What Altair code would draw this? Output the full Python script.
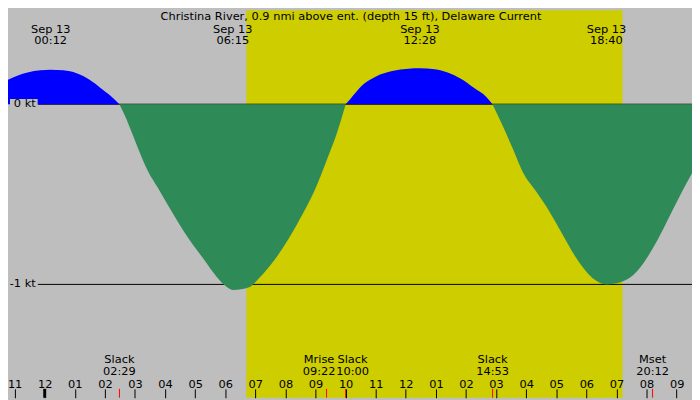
import pandas as pd
import altair as alt

W, H = 692, 392
FONT = "DejaVu Sans"
FS = 11.5

title_text = "Christina River, 0.9 nmi above ent. (depth 15 ft), Delaware Current"

flood1_h = [-1.22, -0.89, -0.57, -0.14, 0.19, 0.62, 1.06, 1.49, 1.92, 2.25, 2.48]
flood1_kt = [0.136, 0.160, 0.176, 0.188, 0.192, 0.188, 0.172, 0.136, 0.082, 0.038, 0.0]

ebb1_h = [2.48, 2.68, 2.90, 3.11, 3.44, 3.76, 4.20, 4.73, 5.28, 5.71, 6.03, 6.27,
          6.79, 7.12, 7.66, 8.09, 8.52, 8.96, 9.39, 9.71, 10.0]
ebb1_kt = [0.0, -0.070, -0.160, -0.249, -0.375, -0.464, -0.590, -0.733, -0.859, -0.957,
           -1.011, -1.031, -1.016, -0.966, -0.859, -0.751, -0.625, -0.482, -0.303, -0.160, 0.0]

flood2_h = [10.0, 10.15, 10.58, 11.01, 11.55, 12.09, 12.47, 12.96, 13.39, 13.83, 14.26, 14.69, 14.88]
flood2_kt = [0.0, 0.028, 0.109, 0.154, 0.184, 0.197, 0.199, 0.194, 0.176, 0.141, 0.091, 0.038, 0.0]

ebb2_h = [14.88, 15.23, 15.56, 15.88, 16.32, 16.75, 17.18, 17.61, 18.05, 18.37, 18.67,
          19.13, 19.56, 19.99, 20.43, 20.86, 21.19, 21.51]
ebb2_kt = [0.0, -0.124, -0.249, -0.375, -0.482, -0.590, -0.715, -0.840, -0.939, -0.984, -1.0,
           -0.988, -0.948, -0.859, -0.733, -0.590, -0.482, -0.383]

# max flood / max ebb labels along the top
extreme_date = "Sep 13"
extreme_times = ["00:12", "06:15", "12:28", "18:40"]

# events along the bottom
event_names = ["Slack", "Mrise", "Slack", "Slack", "Mset"]
event_times = ["02:29", "09:22", "10:00", "14:53", "20:12"]

sunrise, sunset = "06:42", "19:12"
hour_ticks = list(range(-1, 22))
kt_lines = [0, -1]
kt_labels = ["0 kt", "-1 kt"]


def to_hours(t):
    hh, mm = t.split(":")
    return int(hh) + int(mm) / 60


# label nudges (hours) so crowded event labels don't collide
label_nudge = {1: -0.25, 2: 0.23}

segments = [("flood", flood1_h, flood1_kt), ("ebb", ebb1_h, ebb1_kt),
            ("flood", flood2_h, flood2_kt), ("ebb", ebb2_h, ebb2_kt)]
rows = []
for i, (kind, hs, kts) in enumerate(segments):
    for h, k in zip(hs, kts):
        rows.append({"h": h, "kt": k, "seg": i, "kind": kind})
curve = pd.DataFrame(rows)

extremes = pd.DataFrame({"time": extreme_times, "date": extreme_date})
extremes["h"] = extremes["time"].map(to_hours)

events = pd.DataFrame({"name": event_names, "time": event_times})
events["h"] = events["time"].map(to_hours)
events["lh"] = [h + label_nudge.get(i, 0) for i, h in enumerate(events["h"])]

sun = pd.DataFrame({"rise": [to_hours(sunrise)], "set": [to_hours(sunset)]})
levels = pd.DataFrame({"kt": kt_lines, "label": kt_labels})
midnight = pd.DataFrame({"h": [0]})

xscale = alt.Scale(domain=[-1.22, 21.51], nice=False, zero=False)
yscale = alt.Scale(domain=[-1.629, 0.5215], nice=False, zero=False)
xaxis = alt.Axis(
    orient="top", offset=-H, values=hour_ticks, title=None,
    labelExpr="pad(toString(((datum.value + 11) % 12) + 1), 2, '0', 'left')",
    domain=False, grid=False, tickSize=9, tickColor="black", tickWidth=1,
    labelFont=FONT, labelFontSize=FS, labelColor="black", labelPadding=1,
    labelBaseline="alphabetic", labelFlush=False, labelOverlap=False, zindex=1,
)


def xenc(field):
    return alt.X(f"{field}:Q", scale=xscale, axis=xaxis)


def yenc(field):
    return alt.Y(f"{field}:Q", scale=yscale, axis=None)


def text_mark(align="center"):
    return dict(align=align, baseline="middle", font=FONT, fontSize=FS, color="black")


band = alt.Chart(sun).mark_rect(color="#cdcd00").encode(
    x=xenc("rise"), x2="set"
)

rules = alt.Chart(levels).mark_rule(color="black", strokeWidth=1).encode(
    x=alt.value(30), x2=alt.value(W), y=yenc("kt")
)

areas = alt.Chart(curve).mark_area(interpolate="monotone").encode(
    x=xenc("h"),
    y=yenc("kt"),
    y2=alt.datum(0),
    color=alt.Color("kind:N", scale=alt.Scale(domain=["flood", "ebb"], range=["#0000ff", "#2e8b57"]), legend=None),
    detail="seg:N",
)

label_box = alt.Chart(levels).transform_calculate(
    top="datum.kt + 0.029", bot="datum.kt - 0.025"
).mark_rect(color="#bebebe").encode(
    x=alt.value(2), x2=alt.value(30), y=yenc("top"), y2="bot"
)

level_text = alt.Chart(levels).mark_text(**text_mark("right")).encode(
    x=alt.value(28), y=yenc("kt"), text="label:N"
)

top_date = alt.Chart(extremes).mark_text(**text_mark()).encode(
    x=xenc("h"), y=alt.value(19.6), text="date:N"
)

top_time = alt.Chart(extremes).mark_text(**text_mark()).encode(
    x=xenc("h"), y=alt.value(31.6), text="time:N"
)

ev_name = alt.Chart(events).mark_text(**text_mark()).encode(
    x=xenc("lh"), y=alt.value(353.6), text="name:N"
)

ev_time = alt.Chart(events).mark_text(**text_mark()).encode(
    x=xenc("lh"), y=alt.value(365.6), text="time:N"
)

ev_ticks = alt.Chart(events).mark_rule(color="red", strokeWidth=1).encode(
    x=xenc("h"), y=alt.value(383), y2=alt.value(H)
)

day_tick = alt.Chart(midnight).mark_rule(color="black", strokeWidth=3).encode(
    x=xenc("h"), y=alt.value(383), y2=alt.value(H)
)

title = alt.Chart(pd.DataFrame({"t": [title_text]})).mark_text(**text_mark()).encode(
    x=alt.value(W / 2 + 1), y=alt.value(7), text="t:N"
)

chart = alt.layer(
    band, rules, areas, label_box, level_text, top_date, top_time,
    ev_name, ev_time, ev_ticks, day_tick, title
).properties(
    width=W, height=H, padding=0, background="#bebebe",
    autosize=alt.AutoSizeParams(type="none"),
).configure_view(stroke=None)

chart.save("out.html", embed_options={"renderer": "svg", "actions": False})
